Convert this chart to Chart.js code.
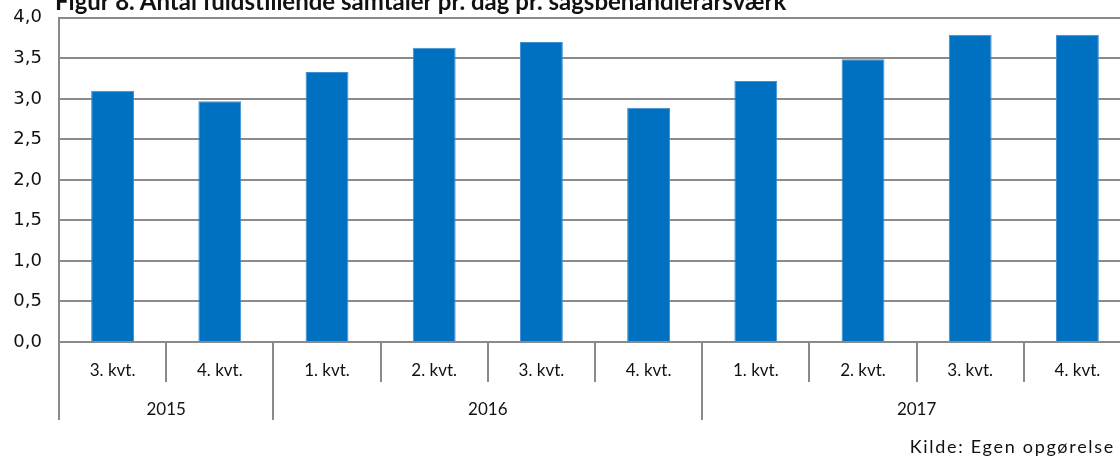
<!DOCTYPE html>
<html lang="da">
<head>
    <meta charset="UTF-8">
    <title>Figur 8</title>
    <style>
        body {
            margin: 0;
            padding: 0;
            background-color: #fff;
            width: 1120px;
            height: 460px;
            overflow: hidden;
            position: relative;
        }

        .title {
            position: absolute;
            left: 55px;
            top: -14px;
            font-family: Lato, sans-serif;
            font-weight: bold;
            font-size: 24px;
            color: #111;
            white-space: nowrap;
            z-index: 2;
        }

        .source {
            position: absolute;
            right: 5px;
            top: 435px;
            font-family: Lato, sans-serif;
            font-size: 18px;
            letter-spacing: 1.7px;
            color: #111;
        }

        .chart-container {
            position: absolute;
            left: 0;
            top: -10px;
            width: 1131px;
            height: 470px;
        }
    </style>
    <script src="https://cdn.jsdelivr.net/npm/chart.js"></script>
</head>
<body>

<div class="title">Figur 8. Antal fuldstillende samtaler pr. dag pr. sagsbehandlerårsværk</div>
<div class="chart-container">
    <canvas id="samtaleChart"></canvas>
</div>
<div class="source">Kilde: Egen opgørelse</div>

<script>
    // Data
    const quarters = ['3. kvt.', '4. kvt.', '1. kvt.', '2. kvt.', '3. kvt.', '4. kvt.', '1. kvt.', '2. kvt.', '3. kvt.', '4. kvt.'];
    const years = ['2015', '2016', '2017'];
    const yearSpans = [2, 4, 4]; // number of quarters under each year
    const samtaler = [3.10, 2.97, 3.33, 3.63, 3.70, 2.89, 3.22, 3.49, 3.79, 3.79];

    const axisGray = '#8a8a8a';

    // Draws the separators under the x axis and the year row
    const groupAxis = {
        id: 'groupAxis',
        afterDraw(chart) {
            const ctx = chart.ctx;
            const x = chart.scales.x;
            const area = chart.chartArea;
            const base = area.bottom;
            const edge = i => {
                if (i === 0) return area.left;
                if (i === quarters.length) return area.right;
                return (x.getPixelForValue(i - 1) + x.getPixelForValue(i)) / 2;
            };

            const groupStarts = [0];
            yearSpans.forEach(n => groupStarts.push(groupStarts[groupStarts.length - 1] + n));

            ctx.save();
            ctx.strokeStyle = axisGray;
            ctx.lineWidth = 2;
            for (let i = 0; i <= quarters.length; i++) {
                const px = Math.round(edge(i));
                const long = groupStarts.includes(i);
                ctx.beginPath();
                ctx.moveTo(px, base);
                ctx.lineTo(px, base + (long ? 78 : 40));
                ctx.stroke();
            }

            ctx.fillStyle = '#111';
            ctx.font = '17px Lato, sans-serif';
            ctx.textAlign = 'center';
            ctx.textBaseline = 'middle';
            years.forEach((y, k) => {
                const cx = (edge(groupStarts[k]) + edge(groupStarts[k + 1])) / 2;
                ctx.fillText(y, cx, base + 68);
            });
            ctx.restore();
        }
    };

    const ctx = document.getElementById('samtaleChart').getContext('2d');
    const samtaleChart = new Chart(ctx, {
        type: 'bar',
        data: {
            labels: quarters,
            datasets: [
                {
                    label: 'Samtaler',
                    data: samtaler,
                    backgroundColor: '#0070C0',
                    borderColor: '#3f8fd2',
                    borderWidth: 1,
                    barPercentage: 0.4,
                    categoryPercentage: 1.0
                }
            ]
        },
        options: {
            responsive: true,
            maintainAspectRatio: false,
            animation: false,
            layout: {
                padding: { top: 9, right: 0, bottom: 0, left: 0 }
            },
            plugins: {
                legend: { display: false },
                tooltip: { enabled: false }
            },
            scales: {
                x: {
                    offset: true,
                    grid: { display: false, drawTicks: false },
                    border: { display: true, color: axisGray, width: 2 },
                    ticks: {
                        color: '#111',
                        padding: 18,
                        maxRotation: 0,
                        autoSkip: false,
                        font: { family: 'Lato, sans-serif', size: 17 }
                    },
                    afterFit(scale) { scale.height = 118; }
                },
                y: {
                    min: 0,
                    max: 4,
                    grid: { color: axisGray, lineWidth: 2, drawTicks: false },
                    border: { display: true, color: axisGray, width: 2 },
                    ticks: {
                        stepSize: 0.5,
                        padding: 17,
                        color: '#111',
                        font: { family: 'DejaVu Sans, sans-serif', size: 18 },
                        callback: v => v.toFixed(1).replace('.', ',')
                    },
                    afterFit(scale) { scale.width = 59; }
                }
            }
        },
        plugins: [groupAxis]
    });
</script>

</body>
</html>
